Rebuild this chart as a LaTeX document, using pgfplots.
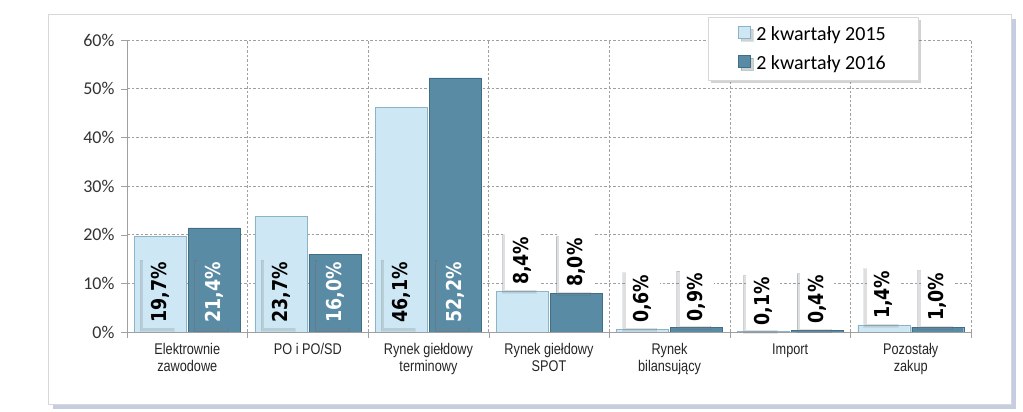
\documentclass[border=0pt]{standalone}
\usepackage{pgfplots}
\pgfplotsset{compat=1.18}
\usetikzlibrary{shadows}
\usepackage{fontspec}
\setmainfont{Carlito}
\newfontfamily\narrowfam{Liberation Sans}[FakeStretch=0.82]
\newfontfamily\lblfam{DejaVu Sans}[FakeStretch=0.85]
\newcommand\lblfont{\lblfam\bfseries\fontsize{20.5}{23}\selectfont}

\definecolor{barA}{HTML}{CDE8F4}
\definecolor{barAedge}{HTML}{8DB3C4}
\definecolor{barB}{HTML}{5A8BA5}
\definecolor{barBedge}{HTML}{3F6E86}
\definecolor{gridc}{HTML}{A0A0A0}
\definecolor{framec}{HTML}{D8D8D8}
\definecolor{frameshadow}{HTML}{C6CDE2}

\pgfplotsset{
  lbl/.style={
    visualization depends on={y \as \rawy},
    nodes near coords={\rotatebox{90}{\pgfmathprintnumber[fixed,fixed zerofill,precision=1,use comma]{\pgfplotspointmeta}\%}},
    nodes near coords style={font=\lblfont, anchor=south, inner xsep=8pt, inner ysep=5pt,
      yshift=1pt,
      drop shadow={shadow xshift=-3pt, shadow yshift=-3pt, opacity=0.25}},
    coordinate style/.condition={y<=15}{fill=white, text=black},
  }
}

\begin{document}
\begin{tikzpicture}
  % page and outer frame
  \fill[white] (0,0) rectangle (1023pt,412pt);
  \fill[frameshadow] (53pt,3pt) rectangle (1016pt,393pt);
  \draw[framec, fill=white] (48pt,8pt) rectangle (1011pt,398pt);

  \begin{axis}[
    at={(127pt,80pt)}, anchor=south west,
    scale only axis, width=844pt, height=292pt,
    xmin=-0.5, xmax=6.5, ymin=0, ymax=60,
    enlargelimits=false,
    ybar=2pt, bar width=52pt,
    axis x line*=bottom, axis y line*=left,
    axis line style={gridc},
    xtick={-0.5,0.5,...,6.5},
    x tick label as interval,
    xticklabels={{Elektrownie\\zawodowe},{PO i PO/SD},{Rynek giełdowy\\terminowy},{Rynek giełdowy\\SPOT},{Rynek\\bilansujący},{Import},{Pozostały\\zakup}},
    ytick={0,10,...,60},
    yticklabel={\pgfmathprintnumber{\tick}\%},
    /pgf/number format/assume math mode=true,
    tick align=outside, major tick length=6pt,
    tick style={gridc},
    grid=major,
    major grid style={gridc, dash pattern=on 2.5pt off 2pt, line width=0.6pt},
    yticklabel style={font=\fontsize{18}{20}\selectfont, text=black!80, xshift=-3pt},
    xticklabel style={font=\narrowfam\fontsize{15.5}{17}\selectfont, align=center, text=black!85, yshift=-2pt},
    legend style={at={(0.688,1.079)}, anchor=north west, draw=framec, fill=white,
      font=\fontsize{20}{22}\selectfont, inner xsep=30pt, inner ysep=7pt, row sep=10pt,
      drop shadow={shadow xshift=3pt, shadow yshift=-3pt, opacity=0.35}},
    legend cell align=left,
    legend image code/.code={\draw[#1] (0pt,-4pt) rectangle (12pt,8pt);},
  ]
  \addplot[fill=barA, draw=barAedge, lbl,
    coordinate style/.condition={y>15}{fill=barA, text=black, yshift={3-\rawy*4.8667}}]
    coordinates {(0,19.7) (1,23.7) (2,46.1) (3,8.4) (4,0.6) (5,0.1) (6,1.4)};
  \addlegendentry{\hspace{4pt}2 kwartały 2015}
  \addplot[fill=barB, draw=barBedge, lbl,
    coordinate style/.condition={y>15}{fill=barB, text=white, yshift={3-\rawy*4.8667}}]
    coordinates {(0,21.4) (1,16.0) (2,52.2) (3,8.0) (4,0.9) (5,0.4) (6,1.0)};
  \addlegendentry{\hspace{4pt}2 kwartały 2016}
  \end{axis}
\end{tikzpicture}
\end{document}
